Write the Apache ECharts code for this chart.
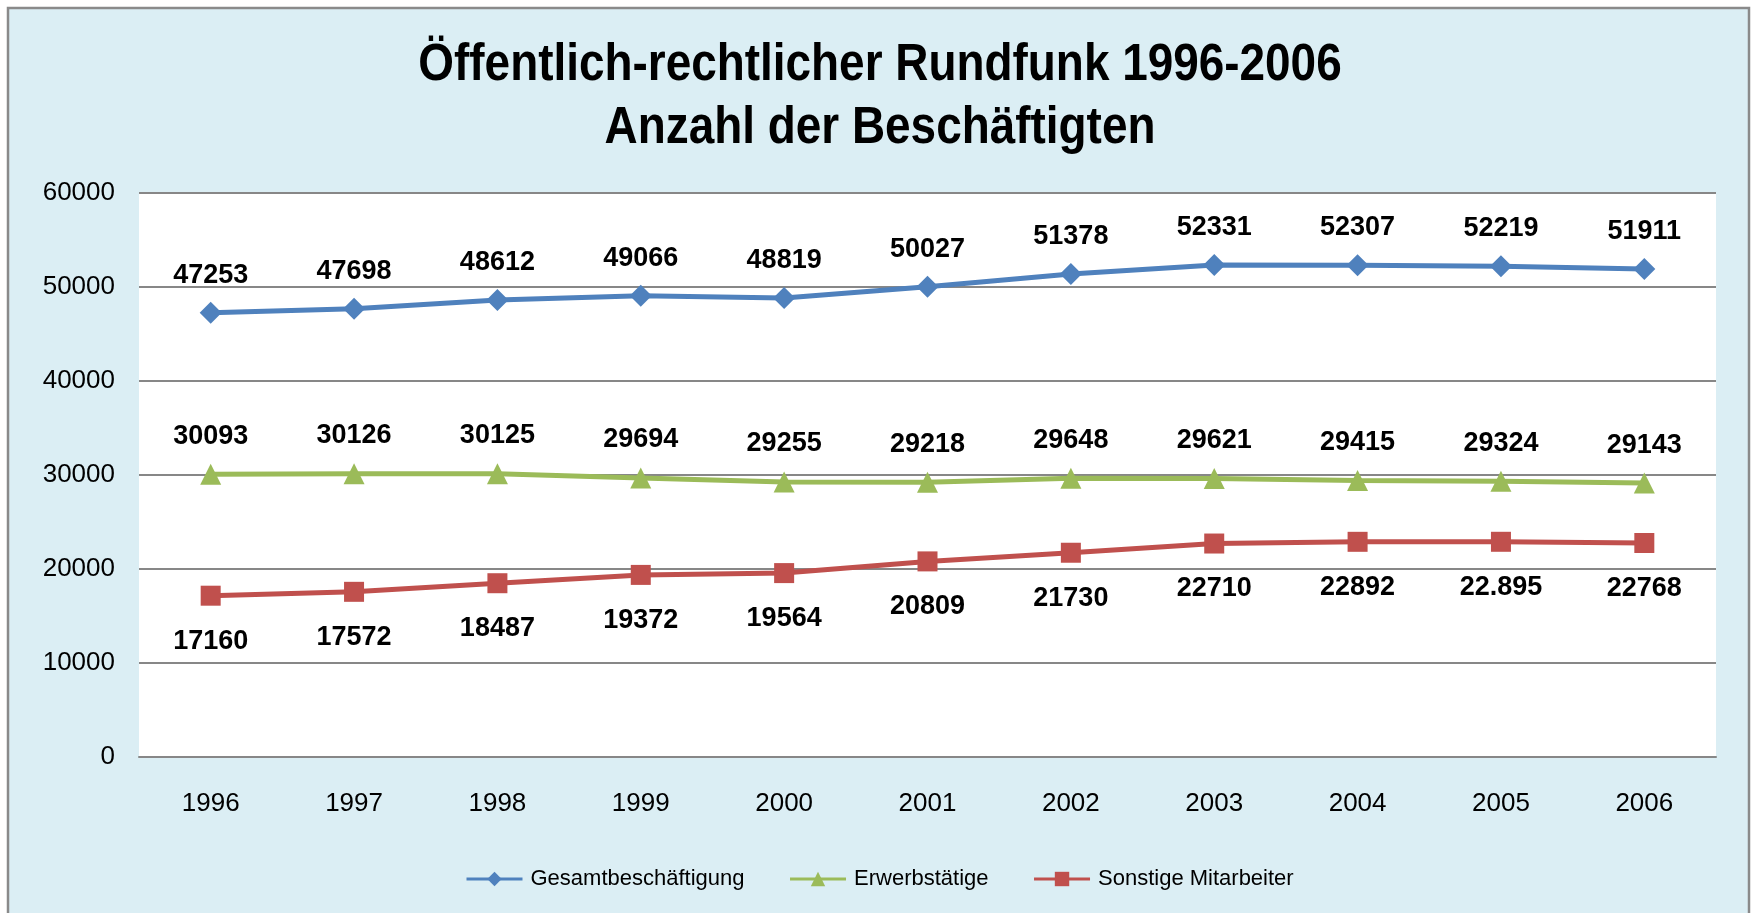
<!DOCTYPE html>
<html>
<head>
<meta charset="utf-8">
<script src="https://cdn.jsdelivr.net/npm/echarts@6/dist/echarts.min.js"></script>
<style>
html,body{margin:0;padding:0;background:#fff;}
#chart{width:1757px;height:913px;}
</style>
</head>
<body>
<div id="chart"></div>
<script>
const years = ['1996','1997','1998','1999','2000','2001','2002','2003','2004','2005','2006'];
const gesamt = [47253,47698,48612,49066,48819,50027,51378,52331,52307,52219,51911];
const erwerb = [30093,30126,30125,29694,29255,29218,29648,29621,29415,29324,29143];
const sonstige = [17160,17572,18487,19372,19564,20809,21730,22710,22892,22895,22768];
const sonstigeLabels = ['17160','17572','18487','19372','19564','20809','21730','22710','22892','22.895','22768'];
const yTicks = [0,10000,20000,30000,40000,50000,60000];
const seriesNames = ['Gesamtbeschäftigung','Erwerbstätige','Sonstige Mitarbeiter'];
const titleLines = ['Öffentlich-rechtlicher Rundfunk 1996-2006','Anzahl der Beschäftigten'];

const FONT = "'Liberation Sans', Arial, sans-serif";
const chart = echarts.init(document.getElementById('chart'), null, {renderer:'canvas'});

const labelBase = {show:true, fontFamily:FONT, fontWeight:'bold', fontSize:27, color:'#000'};

chart.setOption({
  backgroundColor:'#ffffff',
  animation:false,
  graphic:[
    {type:'rect', z:-10, shape:{x:8, y:8, width:1741, height:930},
      style:{fill:'#DBEEF4', stroke:'#8a8a8a', lineWidth:2.5}},
    {type:'text', x:880, y:66, scaleX:0.9, z:10,
      style:{text:titleLines[0], font:"bold 51px 'Liberation Sans', Arial, sans-serif", fill:'#000', align:'center', verticalAlign:'middle'}},
    {type:'text', x:880, y:129, scaleX:0.9, z:10,
      style:{text:titleLines[1], font:"bold 51px 'Liberation Sans', Arial, sans-serif", fill:'#000', align:'center', verticalAlign:'middle'}}
  ],
  grid:{left:139, right:41, top:193, bottom:156, show:true, backgroundColor:'#ffffff', borderWidth:0, containLabel:false},
  legend:{
    data:seriesNames, left:460, top:863, itemWidth:56, itemHeight:18, itemGap:44,
    lineStyle:{width:3},
    textStyle:{fontFamily:FONT, fontSize:22, color:'#000', padding:[0,0,0,3]}
  },
  xAxis:{
    type:'category', data:years, boundaryGap:true,
    axisLine:{show:true, lineStyle:{color:'#878787', width:2}},
    axisTick:{show:false},
    axisLabel:{fontFamily:FONT, fontSize:26, color:'#000', margin:34},
    splitLine:{show:false}
  },
  yAxis:{
    type:'value', min:yTicks[0], max:yTicks[yTicks.length-1], interval:yTicks[1]-yTicks[0],
    axisLine:{show:false}, axisTick:{show:false},
    axisLabel:{fontFamily:FONT, fontSize:26, color:'#000', margin:24,
      formatter:function(v){return String(v);}},
    splitLine:{show:true, lineStyle:{color:'#878787', width:2}}
  },
  series:[
    {name:seriesNames[0], type:'line', data:gesamt, symbol:'diamond', symbolSize:22,
      lineStyle:{width:5, color:'#4F81BD'}, itemStyle:{color:'#4F81BD'},
      label:Object.assign({}, labelBase, {position:'top', distance:13})},
    {name:seriesNames[1], type:'line', data:erwerb, symbol:'triangle', symbolSize:21,
      lineStyle:{width:5, color:'#9BBB59'}, itemStyle:{color:'#9BBB59'},
      label:Object.assign({}, labelBase, {position:'top', distance:14})},
    {name:seriesNames[2], type:'line', data:sonstige, symbol:'rect', symbolSize:20,
      lineStyle:{width:5, color:'#C0504D'}, itemStyle:{color:'#C0504D'},
      label:Object.assign({}, labelBase, {position:'bottom', distance:22,
        formatter:function(p){return sonstigeLabels[p.dataIndex];}})}
  ]
});
</script>
</body>
</html>
